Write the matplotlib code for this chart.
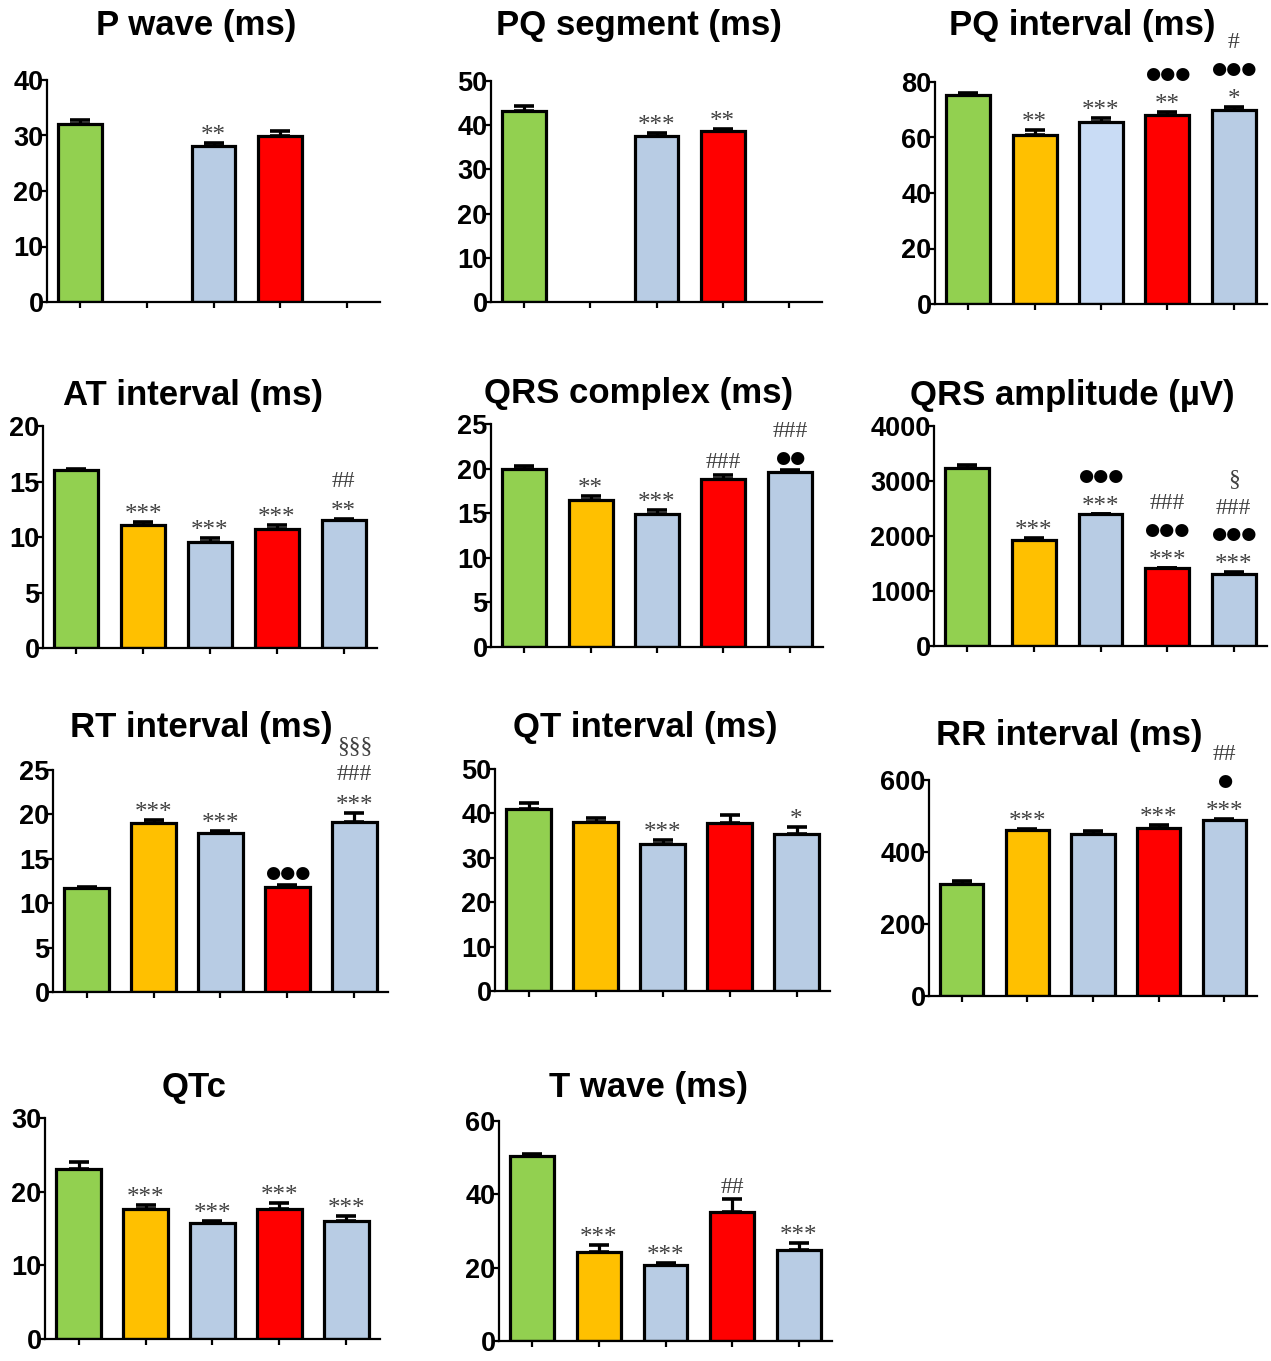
import numpy as np
import matplotlib
matplotlib.use("Agg")
import matplotlib.pyplot as plt

# ---- group colours -------------------------------------------------------
GREEN, YELLOW, BLUE, RED, PALE = "#92D050", "#FFC000", "#B8CCE4", "#FF0000", "#C9DCF5"
nan = np.nan

# ---- ECG parameters: mean, SEM and significance marks per group ----------
p_wave_mean = [32.0, nan, 28.1, 29.9, nan]
p_wave_sem = [0.8, nan, 0.5, 0.9, nan]
p_wave_sig = [[], [], ["**"], [], []]

pq_segment_mean = [43.2, nan, 37.5, 38.6, nan]
pq_segment_sem = [1.1, nan, 0.8, 0.5, nan]
pq_segment_sig = [[], [], ["***"], ["**"], []]

pq_interval_mean = [75.2, 60.8, 65.6, 68.2, 69.9]
pq_interval_sem = [0.7, 1.9, 1.3, 1.1, 1.2]
pq_interval_sig = [[], ["**"], ["***"], ["**", "●●●"], ["*", "●●●", "#"]]

at_interval_mean = [16.0, 11.1, 9.55, 10.75, 11.5]
at_interval_sem = [0.15, 0.25, 0.35, 0.3, 0.12]
at_interval_sig = [[], ["***"], ["***"], ["***"], ["**", "##"]]

qrs_complex_mean = [19.95, 16.5, 14.86, 18.85, 19.65]
qrs_complex_sem = [0.35, 0.4, 0.45, 0.45, 0.2]
qrs_complex_sig = [[], ["**"], ["***"], ["###"], ["●●", "###"]]

qrs_amplitude_mean = [3242, 1927, 2400, 1424, 1315]
qrs_amplitude_sem = [40, 42, 0, 0, 30]
qrs_amplitude_sig = [[], ["***"], ["***", "●●●"], ["***", "●●●", "###"],
                     ["***", "●●●", "###", "§"]]

rt_interval_mean = [11.66, 19.0, 17.93, 11.77, 19.2]
rt_interval_sem = [0.18, 0.36, 0.15, 0.26, 1.0]
rt_interval_sig = [[], ["***"], ["***"], ["●●●"], ["***", "###", "§§§"]]

qt_interval_mean = [41.0, 38.1, 33.2, 37.9, 35.4]
qt_interval_sem = [1.3, 0.9, 0.8, 1.7, 1.5]
qt_interval_sig = [[], [], ["***"], [], ["*"]]

rr_interval_mean = [312, 462, 451, 466, 490]
rr_interval_sem = [8, 2, 7, 10, 3]
rr_interval_sig = [[], ["***"], [], ["***"], ["***", "●", "##"]]

qtc_mean = [23.1, 17.7, 15.75, 17.7, 16.0]
qtc_sem = [0.9, 0.5, 0.25, 0.8, 0.7]
qtc_sig = [[], ["***"], ["***"], ["***"], ["***"]]

t_wave_mean = [50.5, 24.2, 20.6, 35.1, 24.8]
t_wave_sem = [0.4, 2.1, 0.7, 3.5, 1.9]
t_wave_sig = [[], ["***"], ["***"], ["##"], ["***"]]

colors_std = [GREEN, YELLOW, BLUE, RED, BLUE]
colors_pq = [GREEN, YELLOW, PALE, RED, BLUE]

panels = [
    ("P wave (ms)", p_wave_mean, p_wave_sem, p_wave_sig, colors_std, [0, 10, 20, 30, 40]),
    ("PQ segment (ms)", pq_segment_mean, pq_segment_sem, pq_segment_sig, colors_std, [0, 10, 20, 30, 40, 50]),
    ("PQ interval (ms)", pq_interval_mean, pq_interval_sem, pq_interval_sig, colors_pq, [0, 20, 40, 60, 80]),
    ("AT interval (ms)", at_interval_mean, at_interval_sem, at_interval_sig, colors_std, [0, 5, 10, 15, 20]),
    ("QRS complex (ms)", qrs_complex_mean, qrs_complex_sem, qrs_complex_sig, colors_std, [0, 5, 10, 15, 20, 25]),
    ("QRS amplitude (µV)", qrs_amplitude_mean, qrs_amplitude_sem, qrs_amplitude_sig, colors_std, [0, 1000, 2000, 3000, 4000]),
    ("RT interval (ms)", rt_interval_mean, rt_interval_sem, rt_interval_sig, colors_std, [0, 5, 10, 15, 20, 25]),
    ("QT interval (ms)", qt_interval_mean, qt_interval_sem, qt_interval_sig, colors_std, [0, 10, 20, 30, 40, 50]),
    ("RR interval (ms)", rr_interval_mean, rr_interval_sem, rr_interval_sig, colors_std, [0, 200, 400, 600]),
    ("QTc", qtc_mean, qtc_sem, qtc_sig, colors_std, [0, 10, 20, 30]),
    ("T wave (ms)", t_wave_mean, t_wave_sem, t_wave_sig, colors_std, [0, 20, 40, 60]),
]

# ---- layout (pixel boxes: left, top, right, bottom) and title centres ----
W, H = 1271, 1361
boxes = [
    (47, 80, 380, 302), (491, 81, 822, 302), (935, 82, 1267, 304),
    (43, 426, 377, 648), (491, 424, 823, 647), (934, 426, 1267, 646),
    (53, 770, 388, 992), (495, 769, 830, 991), (929, 780, 1257, 996),
    (45, 1118, 380, 1339), (499, 1121, 832, 1341),
]
title_xy = [
    (196, 25), (639, 25), (1082, 25),
    (193, 395), (639, 393), (1072, 395),
    (201, 727), (645, 727), (1069, 736),
    (194, 1087), (648, 1088),
]

SANS = "Liberation Sans"
SERIF = "Liberation Serif"
PX = 72.0 / 100.0  # points per pixel at dpi 100

# font and vertical correction (px) so the ink centre lands on the row centre
mark_style = {
    "*": dict(family=SERIF, size=18, color="#404040", shift=-7),
    "#": dict(family=SERIF, size=17, color="#404040", shift=-2),
    "§": dict(family=SERIF, size=17, color="#404040", shift=0),
    "●": dict(family="DejaVu Sans", size=12.5, color="black", shift=-2),
}

fig = plt.figure(figsize=(W / 100, H / 100), dpi=100)

for (title, mean, sem, sig, cols, yticks), (l, t, r, b), (tx, ty) in zip(panels, boxes, title_xy):
    ax = fig.add_axes([l / W, 1 - b / H, (r - l) / W, (b - t) / H])
    x = np.arange(5)
    mean = np.asarray(mean, dtype=float)
    sem = np.asarray(sem, dtype=float)
    ok = ~np.isnan(mean)

    ax.bar(x[ok], mean[ok], width=0.66, color=[c for c, k in zip(cols, ok) if k],
           edgecolor="black", linewidth=2.3, zorder=2)
    ax.errorbar(x[ok], mean[ok], yerr=[np.zeros(ok.sum()), sem[ok]], fmt="none",
                ecolor="black", elinewidth=2.3, capsize=7.5, capthick=2.6, zorder=3)

    for i in np.where(ok)[0]:
        top = mean[i] + sem[i]
        for k, mark in enumerate(sig[i]):
            st = mark_style[mark[0]]
            off_px = 14 + 26 * k + st["shift"]
            ax.annotate(mark, xy=(i, top), xytext=(0, off_px * PX), textcoords="offset points",
                        ha="center", va="center", fontsize=st["size"], family=st["family"],
                        color=st["color"], annotation_clip=False, zorder=4)

    ax.set_xlim(-0.5, 4.5)
    ax.set_ylim(0, yticks[-1])
    ax.set_xticks(x)
    ax.set_xticklabels([])
    ax.set_yticks(yticks)
    ax.set_yticklabels([str(v) for v in yticks], fontsize=19.5, fontweight="bold", family=SANS)
    for side in ("top", "right"):
        ax.spines[side].set_visible(False)
    for side in ("left", "bottom"):
        ax.spines[side].set_linewidth(1.6)
    ax.tick_params(axis="y", direction="out", length=4.5, width=1.6, pad=-2)
    ax.tick_params(axis="x", direction="out", length=4.5, width=1.6)
    ax.patch.set_visible(False)

    fig.text(tx / W, 1 - ty / H, title, ha="center", va="center",
             fontsize=25, fontweight="bold", family=SANS)

fig.savefig("out.png", dpi=100)
